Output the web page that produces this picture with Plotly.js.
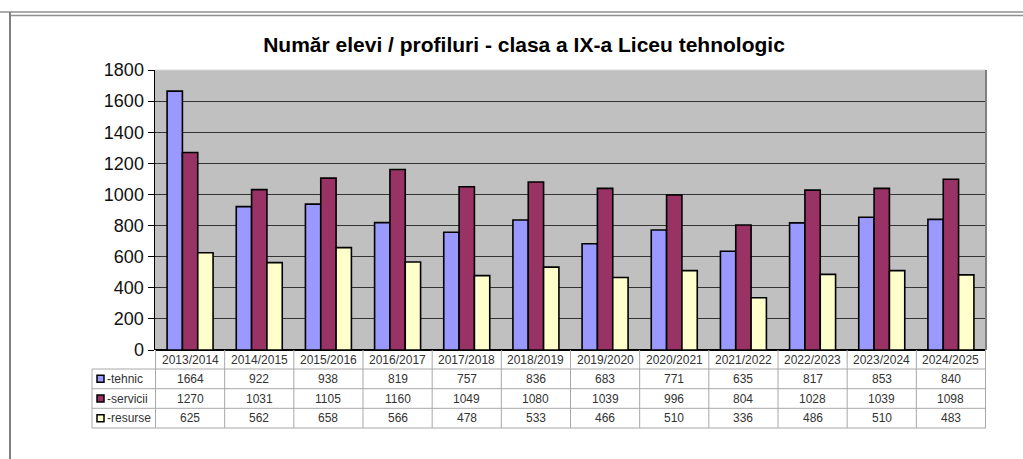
<!DOCTYPE html>
<html>
<head>
<meta charset="utf-8">
<script src="https://cdn.plot.ly/plotly-3.0.1.min.js"></script>
<style>html,body{margin:0;padding:0;background:#fff;}#chart{width:1023px;height:459px;}</style>
</head>
<body>
<div id="chart"></div>
<script>
const categories = ["2013/2014","2014/2015","2015/2016","2016/2017","2017/2018","2018/2019","2019/2020","2020/2021","2021/2022","2022/2023","2023/2024","2024/2025"];
const tehnic   = [1664, 922, 938, 819, 757, 836, 683, 771, 635, 817, 853, 840];
const servicii = [1270, 1031, 1105, 1160, 1049, 1080, 1039, 996, 804, 1028, 1039, 1098];
const resurse  = [625, 562, 658, 566, 478, 533, 466, 510, 336, 486, 510, 483];
const seriesNames = ["-tehnic", "-servicii", "-resurse"];
const yTicks = [0, 200, 400, 600, 800, 1000, 1200, 1400, 1600, 1800];

const colors = ["#9999ff", "#993366", "#ffffcc"];
const seriesData = [tehnic, servicii, resurse];
const FONT = "Arial, 'Liberation Sans', sans-serif";

const W = 1023, H = 459, L = 155, R = 986, T = 70, B = 350;
const px = x => (x - L) / (R - L);
const py = y => (B - y) / (B - T);

const traces = seriesData.map((d, i) => ({
  type: "bar", x: categories, y: d, name: seriesNames[i],
  marker: {color: colors[i], line: {color: "#000", width: 1.6}},
  hoverinfo: "x+y+name"
}));

// table geometry
const rowEdges = [350, 369, 388.7, 408.3, 428];
const tableLeft = 92;
const lineCol = "#a8a8a8";
const shapes = [];
const annotations = [];

// frame
shapes.push({type:"line", xref:"paper", yref:"paper", x0:px(0), x1:px(W), y0:py(12), y1:py(12), line:{color:"#909090", width:1.5}});
shapes.push({type:"line", xref:"paper", yref:"paper", x0:px(10), x1:px(W), y0:py(15.5), y1:py(15.5), line:{color:"#909090", width:1.5}});
shapes.push({type:"line", xref:"paper", yref:"paper", x0:px(10), x1:px(10), y0:py(12), y1:py(H), line:{color:"#808080", width:2}});

// plot border (top light, right dark)
shapes.push({type:"line", xref:"paper", yref:"paper", x0:0, x1:1, y0:1, y1:1, line:{color:"#d8d8d8", width:1}});
shapes.push({type:"line", xref:"paper", yref:"paper", x0:1, x1:1, y0:0, y1:1, line:{color:"#808080", width:2}});

// table vertical lines
for (let i = 0; i <= categories.length; i++) {
  shapes.push({type:"line", xref:"x", yref:"paper", x0:i-0.5, x1:i-0.5, y0:py(rowEdges[0]), y1:py(rowEdges[4]), line:{color:lineCol, width:1}, layer:"above"});
}
shapes.push({type:"line", xref:"paper", yref:"paper", x0:px(tableLeft), x1:px(tableLeft), y0:py(rowEdges[1]), y1:py(rowEdges[4]), line:{color:lineCol, width:1}});
for (let r = 1; r < rowEdges.length; r++) {
  shapes.push({type:"line", xref:"paper", yref:"paper", x0:px(tableLeft), x1:1, y0:py(rowEdges[r]), y1:py(rowEdges[r]), line:{color:lineCol, width:1}});
}

// header & values
categories.forEach((c, i) => {
  annotations.push({xref:"x", yref:"paper", x:c, y:py((rowEdges[0]+rowEdges[1])/2), text:c, showarrow:false, font:{family:FONT, size:12, color:"#333"}, yanchor:"middle"});
  seriesData.forEach((d, s) => {
    annotations.push({xref:"x", yref:"paper", x:c, y:py((rowEdges[s+1]+rowEdges[s+2])/2), text:String(d[i]), showarrow:false, font:{family:FONT, size:12, color:"#333"}, yanchor:"middle"});
  });
});
// legend keys in the table
seriesNames.forEach((n, s) => {
  const cy = (rowEdges[s+1]+rowEdges[s+2])/2;
  shapes.push({type:"rect", xref:"paper", yref:"paper", x0:px(97), x1:px(104), y0:py(cy+3.5), y1:py(cy-3.5), fillcolor:colors[s], line:{color:"#000", width:1.5}});
  annotations.push({xref:"paper", yref:"paper", x:px(105), y:py(cy), xanchor:"left", yanchor:"middle", text:n, showarrow:false, font:{family:FONT, size:12, color:"#333"}});
});

const layout = {
  width: W, height: H,
  margin: {l: L, r: W - R, t: T, b: H - B, pad: 0},
  paper_bgcolor: "#fff", plot_bgcolor: "#c0c0c0",
  title: {text: "<b>Număr elevi / profiluri - clasa a IX-a Liceu tehnologic</b>", x: 524 / W, xref: "container", xanchor: "center", y: 1 - 45 / H, yref: "container", yanchor: "middle", font: {family: FONT, size: 21, color: "#000"}},
  showlegend: false,
  barmode: "group", bargap: 0.335, bargroupgap: 0,
  xaxis: {type: "category", showticklabels: false, ticks: "", showgrid: false, zeroline: false, showline: false, fixedrange: true},
  yaxis: {range: [0, 1800], tickvals: yTicks, ticktext: yTicks.map(String), ticks: "outside", ticklen: 6, tickwidth: 1, tickcolor: "#000",
          showline: true, linecolor: "#000", linewidth: 1.5, gridcolor: "#333", gridwidth: 1.2, zeroline: true, zerolinecolor: "#000", zerolinewidth: 1.5,
          tickfont: {family: FONT, size: 18, color: "#111"}, fixedrange: true},
  shapes: shapes, annotations: annotations
};

Plotly.newPlot("chart", traces, layout, {displayModeBar: false, staticPlot: true});
</script>
</body>
</html>
